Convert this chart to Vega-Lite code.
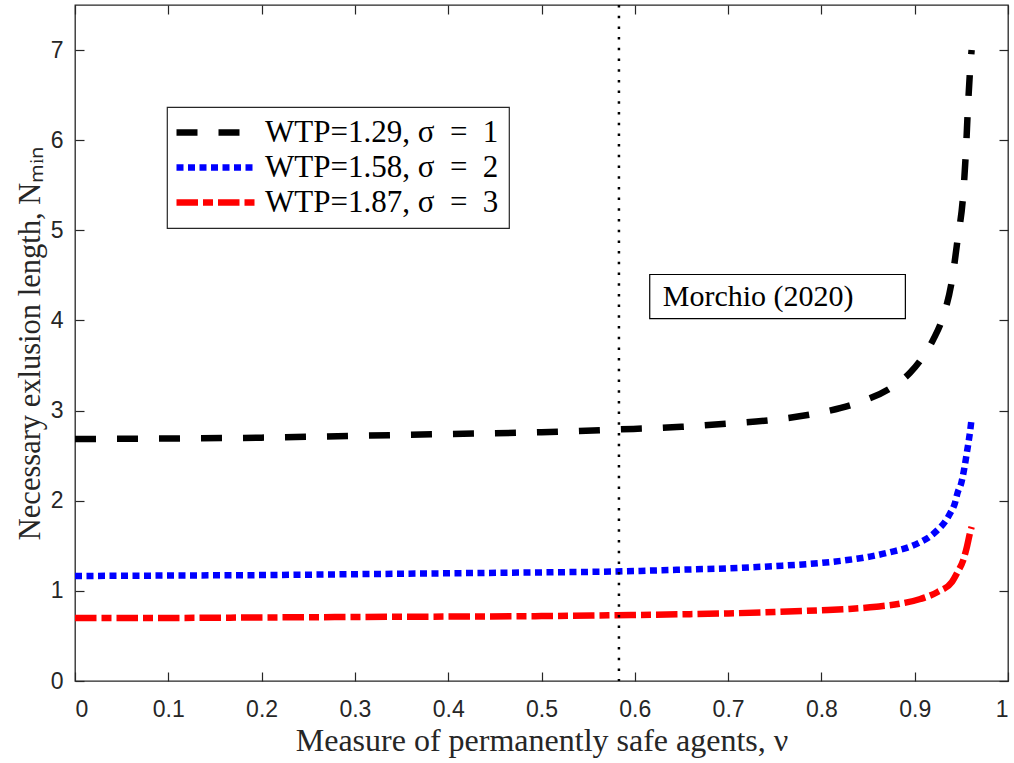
{
  "$schema": "https://vega.github.io/schema/vega-lite/v6.json",
  "width": 933,
  "height": 676,
  "autosize": {"type": "none"},
  "padding": {"left": 75, "top": 5, "right": 6, "bottom": 82},
  "background": "white",
  "config": {
    "view": {"stroke": "#262626", "strokeWidth": 1.3},
    "axis": {
      "labelFont": "Liberation Sans",
      "labelFontSize": 23,
      "labelColor": "#262626",
      "titleFont": "Liberation Serif",
      "titleFontSize": 30,
      "titleFontWeight": "normal",
      "titleColor": "#262626",
      "grid": false,
      "domain": false,
      "tickColor": "#262626",
      "tickSize": -9,
      "tickWidth": 1.2
    },
    "legend": {
      "orient": "none",
      "legendX": 92,
      "legendY": 102,
      "fillColor": "white",
      "strokeColor": "#262626",
      "strokeWidth": 1.2,
      "padding": 10,
      "symbolType": "M-4,0L4,0",
      "symbolSize": 400,
      "symbolStrokeWidth": 6.5,
      "symbolOffset": 24,
      "labelFont": "Liberation Serif",
      "labelFontSize": 31,
      "labelColor": "black",
      "rowPadding": 3,
      "labelOffset": 33,
      "labelLimit": 400
    }
  },
  "datasets": {
    "curves": [
      {"s": "WTP=1.29, σ = 1", "nu": 0, "n": 2.685},
      {"s": "WTP=1.29, σ = 1", "nu": 0.1, "n": 2.69},
      {"s": "WTP=1.29, σ = 1", "nu": 0.2, "n": 2.70},
      {"s": "WTP=1.29, σ = 1", "nu": 0.3, "n": 2.72},
      {"s": "WTP=1.29, σ = 1", "nu": 0.4, "n": 2.74},
      {"s": "WTP=1.29, σ = 1", "nu": 0.5, "n": 2.76},
      {"s": "WTP=1.29, σ = 1", "nu": 0.58, "n": 2.79},
      {"s": "WTP=1.29, σ = 1", "nu": 0.65, "n": 2.82},
      {"s": "WTP=1.29, σ = 1", "nu": 0.7, "n": 2.855},
      {"s": "WTP=1.29, σ = 1", "nu": 0.75, "n": 2.90},
      {"s": "WTP=1.29, σ = 1", "nu": 0.8, "n": 2.98},
      {"s": "WTP=1.29, σ = 1", "nu": 0.84, "n": 3.09},
      {"s": "WTP=1.29, σ = 1", "nu": 0.877, "n": 3.27},
      {"s": "WTP=1.29, σ = 1", "nu": 0.895, "n": 3.42},
      {"s": "WTP=1.29, σ = 1", "nu": 0.909, "n": 3.60},
      {"s": "WTP=1.29, σ = 1", "nu": 0.92, "n": 3.79},
      {"s": "WTP=1.29, σ = 1", "nu": 0.93, "n": 4.03},
      {"s": "WTP=1.29, σ = 1", "nu": 0.94, "n": 4.45},
      {"s": "WTP=1.29, σ = 1", "nu": 0.946, "n": 4.9},
      {"s": "WTP=1.29, σ = 1", "nu": 0.952, "n": 5.4},
      {"s": "WTP=1.29, σ = 1", "nu": 0.955, "n": 5.9},
      {"s": "WTP=1.29, σ = 1", "nu": 0.957, "n": 6.35},
      {"s": "WTP=1.29, σ = 1", "nu": 0.9595, "n": 6.8},
      {"s": "WTP=1.29, σ = 1", "nu": 0.961, "n": 7.0},
      {"s": "WTP=1.58, σ = 2", "nu": 0, "n": 1.165},
      {"s": "WTP=1.58, σ = 2", "nu": 0.1, "n": 1.17},
      {"s": "WTP=1.58, σ = 2", "nu": 0.2, "n": 1.175},
      {"s": "WTP=1.58, σ = 2", "nu": 0.3, "n": 1.185},
      {"s": "WTP=1.58, σ = 2", "nu": 0.4, "n": 1.195},
      {"s": "WTP=1.58, σ = 2", "nu": 0.5, "n": 1.205},
      {"s": "WTP=1.58, σ = 2", "nu": 0.58, "n": 1.215},
      {"s": "WTP=1.58, σ = 2", "nu": 0.65, "n": 1.235},
      {"s": "WTP=1.58, σ = 2", "nu": 0.7, "n": 1.25},
      {"s": "WTP=1.58, σ = 2", "nu": 0.75, "n": 1.275},
      {"s": "WTP=1.58, σ = 2", "nu": 0.8, "n": 1.31},
      {"s": "WTP=1.58, σ = 2", "nu": 0.83, "n": 1.345},
      {"s": "WTP=1.58, σ = 2", "nu": 0.852, "n": 1.38},
      {"s": "WTP=1.58, σ = 2", "nu": 0.874, "n": 1.43},
      {"s": "WTP=1.58, σ = 2", "nu": 0.895, "n": 1.49},
      {"s": "WTP=1.58, σ = 2", "nu": 0.906, "n": 1.54},
      {"s": "WTP=1.58, σ = 2", "nu": 0.916, "n": 1.60},
      {"s": "WTP=1.58, σ = 2", "nu": 0.925, "n": 1.68},
      {"s": "WTP=1.58, σ = 2", "nu": 0.932, "n": 1.76},
      {"s": "WTP=1.58, σ = 2", "nu": 0.938, "n": 1.86},
      {"s": "WTP=1.58, σ = 2", "nu": 0.943, "n": 1.97},
      {"s": "WTP=1.58, σ = 2", "nu": 0.946, "n": 2.09},
      {"s": "WTP=1.58, σ = 2", "nu": 0.95, "n": 2.20},
      {"s": "WTP=1.58, σ = 2", "nu": 0.953, "n": 2.35},
      {"s": "WTP=1.58, σ = 2", "nu": 0.956, "n": 2.54},
      {"s": "WTP=1.58, σ = 2", "nu": 0.958, "n": 2.67},
      {"s": "WTP=1.58, σ = 2", "nu": 0.9595, "n": 2.78},
      {"s": "WTP=1.58, σ = 2", "nu": 0.961, "n": 2.91},
      {"s": "WTP=1.87, σ = 3", "nu": 0, "n": 0.70},
      {"s": "WTP=1.87, σ = 3", "nu": 0.1, "n": 0.70},
      {"s": "WTP=1.87, σ = 3", "nu": 0.2, "n": 0.705},
      {"s": "WTP=1.87, σ = 3", "nu": 0.3, "n": 0.71},
      {"s": "WTP=1.87, σ = 3", "nu": 0.4, "n": 0.715},
      {"s": "WTP=1.87, σ = 3", "nu": 0.5, "n": 0.72},
      {"s": "WTP=1.87, σ = 3", "nu": 0.58, "n": 0.73},
      {"s": "WTP=1.87, σ = 3", "nu": 0.65, "n": 0.74},
      {"s": "WTP=1.87, σ = 3", "nu": 0.7, "n": 0.75},
      {"s": "WTP=1.87, σ = 3", "nu": 0.75, "n": 0.765},
      {"s": "WTP=1.87, σ = 3", "nu": 0.8, "n": 0.785},
      {"s": "WTP=1.87, σ = 3", "nu": 0.83, "n": 0.80},
      {"s": "WTP=1.87, σ = 3", "nu": 0.859, "n": 0.824},
      {"s": "WTP=1.87, σ = 3", "nu": 0.884, "n": 0.857},
      {"s": "WTP=1.87, σ = 3", "nu": 0.906, "n": 0.91},
      {"s": "WTP=1.87, σ = 3", "nu": 0.925, "n": 0.99},
      {"s": "WTP=1.87, σ = 3", "nu": 0.94, "n": 1.10},
      {"s": "WTP=1.87, σ = 3", "nu": 0.946, "n": 1.21},
      {"s": "WTP=1.87, σ = 3", "nu": 0.952, "n": 1.34},
      {"s": "WTP=1.87, σ = 3", "nu": 0.956, "n": 1.49},
      {"s": "WTP=1.87, σ = 3", "nu": 0.959, "n": 1.63},
      {"s": "WTP=1.87, σ = 3", "nu": 0.961, "n": 1.71}
    ],
    "note": [
      {"label": "Morchio (2020)", "x0": 0.616, "x1": 0.89, "y0": 4.02, "y1": 4.51, "tx": 0.63, "ty": 4.26, "vline": 0.583}
    ]
  },
  "layer": [
    {
      "data": {"name": "curves"},
      "mark": {"type": "line", "strokeWidth": 6.5, "strokeCap": "butt", "strokeJoin": "miter", "interpolate": "monotone"},
      "encoding": {
        "x": {
          "field": "nu", "type": "quantitative",
          "scale": {"domain": [0, 1], "nice": false},
          "axis": {
            "orient": "bottom",
            "values": [0, 0.1, 0.2, 0.3, 0.4, 0.5, 0.6, 0.7, 0.8, 0.9, 1],
            "format": "~g",
            "labelPadding": 26,
            "title": "Measure of permanently safe agents, ν",
            "titleFontSize": 32,
            "titlePadding": 4
          }
        },
        "y": {
          "field": "n", "type": "quantitative",
          "scale": {"domain": [0, 7.5], "nice": false},
          "axis": {
            "orient": "left",
            "values": [0, 1, 2, 3, 4, 5, 6, 7],
            "format": "d",
            "labelPadding": 21,
            "title": "Necessary exlusion length, Nₘᵢₙ",
            "titleFontSize": 30.5,
            "titlePadding": 5
          }
        },
        "color": {
          "field": "s", "type": "nominal",
          "scale": {"domain": ["WTP=1.29, σ = 1", "WTP=1.58, σ = 2", "WTP=1.87, σ = 3"], "range": ["#000000", "#0000ff", "#ff0000"]},
          "legend": {"title": null, "labelExpr": "replace(datum.label, ' = ', '\u2002=\u2002')"}
        },
        "strokeDash": {
          "field": "s", "type": "nominal",
          "scale": {"domain": ["WTP=1.29, σ = 1", "WTP=1.58, σ = 2", "WTP=1.87, σ = 3"], "range": [[21, 21], [7, 4.5], [21.5, 5, 10, 5]]},
          "legend": {"title": null, "labelExpr": "replace(datum.label, ' = ', '\u2002=\u2002')"}
        }
      }
    },
    {
      "data": {"name": "note"},
      "mark": {"type": "rule", "color": "black", "strokeWidth": 2.5, "strokeDash": [2.5, 8.2]},
      "encoding": {
        "x": {"field": "vline", "type": "quantitative", "axis": null}
      }
    },
    {
      "data": {"name": "note"},
      "mark": {"type": "rect", "fill": "white", "stroke": "black", "strokeWidth": 1.2},
      "encoding": {
        "x": {"field": "x0", "type": "quantitative", "axis": null},
        "x2": {"field": "x1"},
        "y": {"field": "y0", "type": "quantitative", "axis": null},
        "y2": {"field": "y1"}
      }
    },
    {
      "data": {"name": "note"},
      "mark": {"type": "text", "font": "Liberation Serif", "fontSize": 30, "align": "left", "baseline": "middle", "color": "black"},
      "encoding": {
        "x": {"field": "tx", "type": "quantitative", "axis": null},
        "y": {"field": "ty", "type": "quantitative", "axis": null},
        "text": {"field": "label"}
      }
    },
    {
      "data": {"name": "note"},
      "mark": {"type": "point", "opacity": 0},
      "encoding": {
        "x": {"field": "tx", "type": "quantitative", "axis": {"orient": "top", "values": [0, 0.1, 0.2, 0.3, 0.4, 0.5, 0.6, 0.7, 0.8, 0.9, 1], "labels": false, "title": null}},
        "y": {"field": "ty", "type": "quantitative", "axis": {"orient": "right", "values": [0, 1, 2, 3, 4, 5, 6, 7], "labels": false, "title": null}}
      }
    }
  ],
  "resolve": {"axis": {"x": "independent", "y": "independent"}}
}
